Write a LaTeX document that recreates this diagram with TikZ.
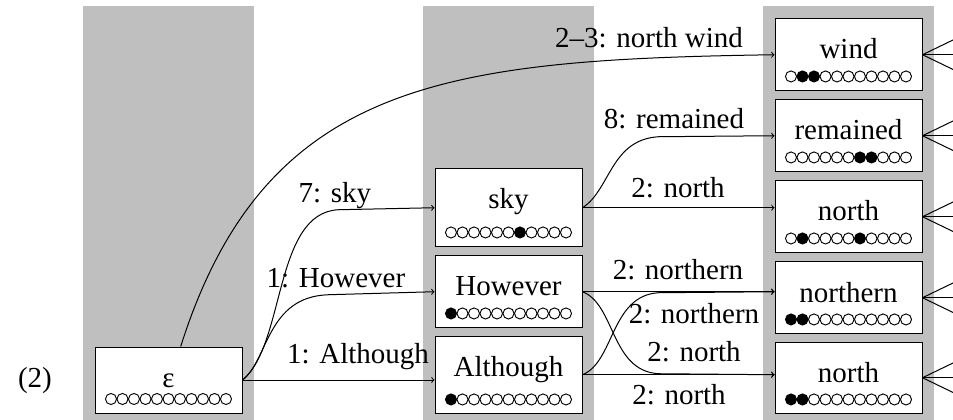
\documentclass[tikz,border=0pt]{standalone}
\usepackage{fontspec}
\setmainfont{Liberation Serif}
\usetikzlibrary{calc}

\tikzset{every picture/.style={line width=0.75pt}}
\tikzset{
	state/.style={draw, fill=white, anchor=base, inner sep=0pt, minimum width=110.25pt, text height=30pt, text depth=23.6pt},
	deep/.style={text depth=28.1pt},
	shallow/.style={text depth=19.5pt},
	lbl/.style={anchor=base, inner sep=0pt},
	dot0/.style={fill=white},
	dot1/.style={fill=black}}

% row of coverage circles under a state
\newcommand{\coverage}[2]{%
	\foreach \f [count=\k] in {#2}
		\draw [line width=0.7pt, dot\f] ($(#1.south)+({(\k-6)*11.5},-14.5)$) circle [radius=4.15pt];
}

\begin{document}
\begin{tikzpicture}[x=0.75pt,y=0.75pt,yscale=-1,xscale=1,font=\fontsize{21.75}{26}\selectfont]
	\clip (0,0) rectangle (953,420);

	% columns
	\foreach \cx in {83,423,763}
		\fill [lightgray] (\cx,6) rectangle ++(170.5,420);

	\node [lbl] (ex) at (35,387) {(2)};

	% states
	\node [state,shallow] (eps) at (168.5,387) {ε};
	\node [state,deep] (sky) at (508.5,209) {sky};
	\node [state] (however) at (508.5,296) {However};
	\node [state,deep] (although) at (508.5,376) {Although};
	\node [state] (wind) at (848.5,59) {wind};
	\node [state] (remained) at (848.5,140) {remained};
	\node [state] (northa) at (848.5,221) {north};
	\node [state] (northern) at (848.5,302) {northern};
	\node [state] (northb) at (848.5,382) {north};

	\coverage{eps}{0,0,0,0,0,0,0,0,0,0,0}
	\coverage{sky}{0,0,0,0,0,0,1,0,0,0,0}
	\coverage{however}{1,0,0,0,0,0,0,0,0,0,0}
	\coverage{although}{1,0,0,0,0,0,0,0,0,0,0}
	\coverage{wind}{0,1,1,0,0,0,0,0,0,0,0}
	\coverage{remained}{0,0,0,0,0,0,1,1,0,0,0}
	\coverage{northa}{0,1,0,0,0,0,1,0,0,0,0}
	\coverage{northern}{1,1,0,0,0,0,0,0,0,0,0}
	\coverage{northb}{1,1,0,0,0,0,0,0,0,0,0}

	% edges out of epsilon
	\draw [->] (eps.70) .. controls +(84.5,-267) and +(-326,5) .. (wind.west);
	\draw [->] (eps.east) .. controls +(43,-35) and +(-65,3) .. ($(sky.west)+(-96,2)$) -- (sky.west);
	\draw [->] (eps.east) .. controls +(26,-20) and +(-62,2) .. ($(however.west)+(-106,3)$) -- (however.west);
	\draw [->] (eps.east) -- (eps.east -| although.west);

	% edges out of the second column
	\draw [->] (sky.east) .. controls +(28,-18) and +(-48,3) .. ($(remained.west)+(-116,1)$) -- (remained.west);
	\draw [->] (sky.east) -- (sky.east -| northa.west);
	\draw [->] (however.east) -- (however.east -| northern.west);
	\draw [->] (however.east) .. controls +(33,13) and +(-48,-3) .. ($(although.east -| northb.west)+(-116,-1)$) -- (although.east -| northb.west);
	\draw [->] (although.east) .. controls +(32,-13) and +(-48,3) .. ($(however.east -| northern.west)+(-116,1)$) -- (however.east -| northern.west);
	\draw [->] (although.east) -- (although.east -| northb.west);

	% edge labels
	\node [lbl] (l-wind) at (649,48) {2--3: north wind};
	\node [lbl] (l-remained) at (674,129) {8: remained};
	\node [lbl] (l-northa) at (678,198) {2: north};
	\node [lbl] (l-sky) at (335,203) {7: sky};
	\node [lbl] (l-however) at (336,287) {1: However};
	\node [lbl] (l-although) at (358,363) {1: Although};
	\node [lbl] (l-northern) at (678,280) {2: northern};
	\node [lbl] (l-northern2) at (694,324) {2: northern};
	\node [lbl] (l-northb) at (694,361) {2: north};
	\node [lbl] (l-northb2) at (679,404) {2: north};

	% edges leaving to the right
	\foreach \n in {wind,remained,northa,northern,northb}
		\foreach \d in {-29,0,29}
			\draw (\n.east) -- ++(60,\d);

\end{tikzpicture}
\end{document}
